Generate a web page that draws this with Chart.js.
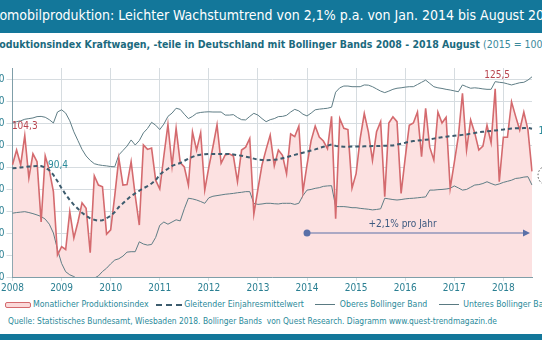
<!DOCTYPE html>
<html lang="de">
<head>
<meta charset="UTF-8">
<title>Automobilproduktion</title>
<script src="https://cdn.jsdelivr.net/npm/chart.js"></script>
<style>
    body {
        margin: 0;
        width: 542px;
        height: 340px;
        overflow: hidden;
        position: relative;
        background: #fff;
        font-family: "DejaVu Sans Condensed", "Open Sans", sans-serif;
    }
    .titlebar {
        position: absolute; left: 0; top: 0; width: 542px; height: 33px;
        background: #13779a; overflow: hidden;
    }
    .titlebar div {
        position: absolute; left: -205px; width: 948px; top: 7px;
        text-align: center; white-space: nowrap;
        color: #fff; font-size: 14px;
    }
    .subtitle {
        position: absolute; left: -200px; width: 934px; top: 38px;
        text-align: center; white-space: nowrap;
        color: #1b6a7e; font-size: 10.5px; font-weight: bold;
    }
    .subtitle span { font-weight: normal; color: #3a8a9c; }
    .chart-box {
        position: absolute; left: -28px; top: 60px; width: 600px; height: 235px;
    }
    .legend {
        position: absolute; left: 5px; top: 299px; white-space: nowrap;
        color: #2a8a9a; font-size: 8.7px;
    }
    .legend i { display: inline-block; vertical-align: middle; margin-right: 2px; }
    .legend .item { margin-right: 5px; }
    .box { width: 24px; height: 4px; background: #fbd9d9; border: 1px solid #d46a6e; border-radius: 2px; }
    .dash { width: 26px; border-top: 2px dashed #3d5c6e; }
    .line { width: 20px; border-top: 1px solid #5a7a82; margin-left: 4px; }
    .source {
        position: absolute; left: 8px; top: 316px; white-space: nowrap;
        color: #2a8a9a; font-size: 8.4px;
    }
    .footbar {
        position: absolute; left: 0; top: 334px; width: 542px; height: 6px; background: #13779a;
    }
</style>
</head>
<body>
<div class="titlebar"><div>Automobilproduktion: Leichter Wachstumtrend von 2,1% p.a. von Jan. 2014 bis August 2018</div></div>
<div class="subtitle">Produktionsindex Kraftwagen, -teile in Deutschland mit Bollinger Bands 2008 - 2018 August <span>(2015 = 100)</span></div>
<div class="chart-box"><canvas id="chart"></canvas></div>
<div class="legend">
    <span class="item"><i class="box"></i>Monatlicher Produktionsindex</span>
    <span class="item"><i class="dash"></i>Gleitender Einjahresmittelwert</span>
    <span class="item"><i class="line"></i> Oberes Bollinger Band</span>
    <span class="item"><i class="line"></i> Unteres Bollinger Band</span>
</div>
<div class="source">Quelle: Statistisches Bundesamt, Wiesbaden 2018. Bollinger Bands&nbsp; von Quest Research. Diagramm www.quest-trendmagazin.de</div>
<div class="footbar"></div>

<script>
// monthly data Jan 2008 - Aug 2018
const years = [2008, 2009, 2010, 2011, 2012, 2013, 2014, 2015, 2016, 2017, 2018];
const months = [];
years.forEach(y => {
    for (let m = 1; m <= 12; m++) {
        if (y === 2018 && m > 8) break;
        months.push(y + '-' + String(m).padStart(2, '0'));
    }
});

const production = [
    91, 97.7, 91, 104.3, 85, 96, 92.4, 65, 95, 88.6, 78.8, 50,
    53.8, 52.5, 69.7, 57.7, 65, 73.7, 71.2, 51, 86, 81.8, 81, 59.5,
    61.4, 77, 94, 81.8, 82, 92.4, 77, 63.6, 100, 98, 98.6, 84,
    80, 95, 109.3, 90.5, 107.6, 92, 90, 81.8, 106, 97.7, 105.6, 79.5,
    90, 99.2, 109.2, 91.7, 95.5, 96, 95, 83.3, 97.7, 99, 103, 68.6,
    80, 91, 98, 104.5, 90.5, 97.7, 95.3, 86.9, 105, 103.8, 108.6, 78.8,
    91, 102, 108.6, 103.6, 101.8, 98.3, 113, 66.5, 112, 107.6, 107, 80.4,
    87, 103, 114.3, 106, 93, 106, 110.6, 76.5, 110, 112.8, 110.6, 78,
    94, 109, 110, 115, 94.7, 116.7, 99, 93.2, 115, 110, 112.6, 80.3,
    92, 104, 123.5, 97.7, 111.4, 105.5, 97.7, 99.5, 109, 101, 125.5, 83.3,
    103.5, 103.5, 119.6, 113, 106.8, 115, 107, 88
];

const movingAvg = [
    89.4, 89.6, 89.8, 90, 90.2, 90.3, 90.4, 90.4, 89.8, 88.5, 86.4, 83.5,
    80.3, 77.5, 75, 72.8, 71, 69.2, 67.8, 66.7, 66, 65.6, 65.8, 66.7,
    67.8, 69.5, 71.8, 73.5, 75.2, 76.8, 78, 79.2, 80.3, 81.3, 82.5, 84,
    86.5, 88, 89.2, 90.5, 91.2, 91.8, 92.8, 93.8, 94.6, 95.3, 95.6, 95.8,
    95.9, 95.9, 95.9, 95.9, 95.9, 95.9, 95.7, 95.4, 95.1, 94.7, 94.3, 93.8,
    93.3, 93.2, 93.1, 93.2, 93.3, 93.5, 94, 94.5, 95, 95.5, 96, 96.5,
    97, 97.5, 98, 98.6, 99.2, 99.7, 100.2, 99.6, 99.4, 99.2, 99.2, 99.3,
    99.3, 99.3, 99.4, 99.4, 99.5, 99.5, 99.6, 99.7, 99.7, 99.8, 100.2, 100.6,
    101, 101.5, 101.8, 102, 102.2, 102.4, 102.6, 102.9, 103.2, 103.5, 103.8, 104,
    104.2, 104.4, 104.6, 104.8, 105.2, 105.5, 105.8, 106, 106.2, 106.4, 106.6, 106.8,
    107, 107.3, 107.5, 107.6, 107.6, 107.7, 107.8, 107.4
];

const upperBand = [
    109.9, 110.6, 111, 111.7, 112, 112.3, 112.9, 113, 112.6, 111.5, 110, 115,
    116, 114.5, 111, 106, 102, 98, 95, 93, 91.5, 91, 90.7, 90.5,
    90.2, 90.1, 95.5, 97.5, 99.5, 102.3, 100, 102, 105.5, 107.5, 110.3, 109,
    107, 109.5, 113, 114.5, 116.7, 116.2, 114, 112, 113, 114.4, 114.8, 115,
    115.1, 115, 115, 115, 113.6, 113.6, 113.8, 112.5, 111.5, 111.4, 113, 114.4,
    113.6, 112, 110.6, 111.5, 112, 112.9, 113, 113.5, 115, 116.2, 115.5, 114,
    113.2, 114.5, 116, 116.3, 116.5, 116.7, 117.2, 124, 126, 126.8, 126.8, 126.5,
    126.5, 126.5, 127.3, 127.2, 126.5, 125.5, 124.5, 123.8, 124.5, 125.3, 125.8, 126,
    126.3, 126.5, 126.5, 127.5, 128.5, 129.5, 128, 126.5, 126, 125.7, 125.3, 125,
    124.6, 124.2, 127.3, 126.5, 125.8, 126, 125.8, 125.5, 125.3, 125.3, 128.8, 128.5,
    128.3, 127.8, 127.3, 127.8, 128.3, 128.5, 129.5, 131
];

const lowerBand = [
    69, 69.3, 69.5, 69.7, 69.3, 68.8, 68.2, 67.5, 66.3, 64, 60, 52.5,
    46.2, 42.4, 41, 40.2, 39, 38, 37.5, 38.5, 39.5, 40.5, 42.5, 44,
    46, 47.7, 48.3, 49.5, 51.3, 51.5, 51.5, 56, 55, 54.5, 54.8, 58,
    63.5, 65, 64, 65, 66, 65.5, 71, 75.8, 75.5, 75, 74.3, 73.5,
    76, 76.7, 77, 77.3, 77.6, 77.8, 78, 78.3, 78.5, 78.8, 78.8, 73.5,
    73, 73.2, 73.5, 73.5, 73.3, 73.2, 73.5, 73.5, 73.5, 73, 73.5, 77,
    79.5, 79.8, 80.3, 80.6, 81.2, 81.4, 81.5, 72, 72, 72, 71.8, 71.5,
    71.5, 71.2, 71, 70.8, 70.5, 70.7, 71, 75.8, 75.5, 75.2, 75, 75.2,
    75.5, 75.7, 75.8, 76, 76.2, 76.4, 79.5, 79.5, 79.7, 79.8, 80, 80.3,
    81.4, 80.5, 79.5, 79.8, 80.8, 81.8, 82, 82.5, 83.3, 82.5, 81.8, 82.3,
    83, 83.5, 84, 84.8, 85, 85.4, 85.6, 81.8
];

const yTicks = [40, 50, 60, 70, 80, 90, 100, 110, 120, 130];
const trendStart = '2014-01';
const trendLevel = 60;
const trendText = '+2,1% pro Jahr';

const fmt = v => String(v).replace('.', ',');

const annotations = {
    id: 'annotations',
    afterDatasetsDraw(chart) {
        const { ctx, scales: { x, y }, chartArea } = chart;
        ctx.save();
        ctx.font = '10px "DejaVu Sans Condensed", "Open Sans", sans-serif';
        ctx.textBaseline = 'middle';

        // max of first year, max of whole series
        const i1 = production.indexOf(Math.max(...production.slice(0, 12)));
        ctx.fillStyle = '#b8454f';
        ctx.textAlign = 'center';
        ctx.fillText(fmt(production[i1]), x.getPixelForValue(i1), y.getPixelForValue(production[i1]) - 9);
        const iMax = production.indexOf(Math.max(...production));
        ctx.fillText(fmt(production[iMax]), x.getPixelForValue(iMax) + 2, y.getPixelForValue(production[iMax]) - 13);

        // moving average labels
        const iMa = movingAvg.indexOf(Math.max(...movingAvg.slice(0, 12)));
        ctx.fillStyle = '#2a8a9a';
        ctx.textAlign = 'left';
        ctx.fillText(fmt(movingAvg[iMa]), x.getPixelForValue(iMa) + 11, y.getPixelForValue(movingAvg[iMa]) - 1);
        const last = movingAvg.length - 1;
        ctx.fillText(fmt(movingAvg[last]), chartArea.right + 6.5, y.getPixelForValue(movingAvg[last]) + 3);

        // dotted circle at the last production value
        ctx.strokeStyle = '#555';
        ctx.lineWidth = 1;
        ctx.setLineDash([1.5, 2]);
        ctx.beginPath();
        ctx.arc(chartArea.right + 16, y.getPixelForValue(production[last]) + 4, 10, 0, Math.PI * 2);
        ctx.stroke();
        ctx.setLineDash([]);

        // trend arrow
        const xs = x.getPixelForValue(months.indexOf(trendStart));
        const xe = chartArea.right - 2;
        const ya = y.getPixelForValue(trendLevel);
        ctx.strokeStyle = '#5a70a8';
        ctx.fillStyle = '#5a70a8';
        ctx.lineWidth = 1.2;
        ctx.beginPath();
        ctx.moveTo(xs, ya);
        ctx.lineTo(xe - 6, ya);
        ctx.stroke();
        ctx.beginPath();
        ctx.arc(xs, ya, 3.5, 0, Math.PI * 2);
        ctx.fill();
        ctx.beginPath();
        ctx.moveTo(xe, ya);
        ctx.lineTo(xe - 7, ya - 3.5);
        ctx.lineTo(xe - 7, ya + 3.5);
        ctx.closePath();
        ctx.fill();
        ctx.fillStyle = '#3d5a80';
        ctx.fillText(trendText, x.getPixelForValue(87), y.getPixelForValue(trendLevel + 4));
        ctx.restore();
    }
};

new Chart(document.getElementById('chart'), {
    type: 'line',
    data: {
        labels: months,
        datasets: [
            {
                label: 'Gleitender Einjahresmittelwert',
                data: movingAvg,
                borderColor: '#3d5c6e',
                borderWidth: 2,
                borderDash: [4, 3],
                pointRadius: 0,
                fill: false,
                order: 0
            },
            {
                label: 'Monatlicher Produktionsindex',
                data: production,
                borderColor: '#d46a6e',
                backgroundColor: '#fce1e1',
                borderWidth: 1.6,
                pointRadius: 0,
                fill: 'start',
                order: 1
            },
            {
                label: 'Oberes Bollinger Band',
                data: upperBand,
                borderColor: '#5f7d85',
                borderWidth: 1,
                pointRadius: 0,
                fill: false,
                order: 2
            },
            {
                label: 'Unteres Bollinger Band',
                data: lowerBand,
                borderColor: '#5f7d85',
                borderWidth: 1,
                pointRadius: 0,
                fill: false,
                order: 3
            }
        ]
    },
    options: {
        responsive: true,
        maintainAspectRatio: false,
        animation: false,
        layout: { padding: { top: 7, right: 40, left: 0, bottom: 0 } },
        plugins: {
            legend: { display: false },
            tooltip: { enabled: false },
            filler: { drawTime: 'beforeDatasetsDraw' }
        },
        scales: {
            x: {
                grid: {
                    color: c => (c.index % 12 === 0 ? '#d6dce0' : 'transparent'),
                    tickLength: 4
                },
                border: { color: '#7f9ea8' },
                ticks: {
                    autoSkip: false,
                    maxRotation: 0,
                    minRotation: 0,
                    padding: 1,
                    color: '#2a7f92',
                    font: { size: 10, family: '"DejaVu Sans Condensed", "Open Sans", sans-serif' },
                    callback: (v, i) => (i % 12 === 0 ? months[i].slice(0, 4) : '')
                },
                afterFit: s => { s.height = 18; }
            },
            y: {
                min: 40,
                max: 135,
                afterBuildTicks: s => { s.ticks = yTicks.map(v => ({ value: v })); },
                grid: { color: '#d6dce0', tickLength: 6 },
                border: { color: '#7f9ea8' },
                ticks: {
                    padding: 2,
                    color: '#2a7f92',
                    font: { size: 10, family: '"DejaVu Sans Condensed", "Open Sans", sans-serif' }
                },
                afterFit: s => { s.width = 40.5; }
            }
        }
    },
    plugins: [annotations]
});
</script>
</body>
</html>
